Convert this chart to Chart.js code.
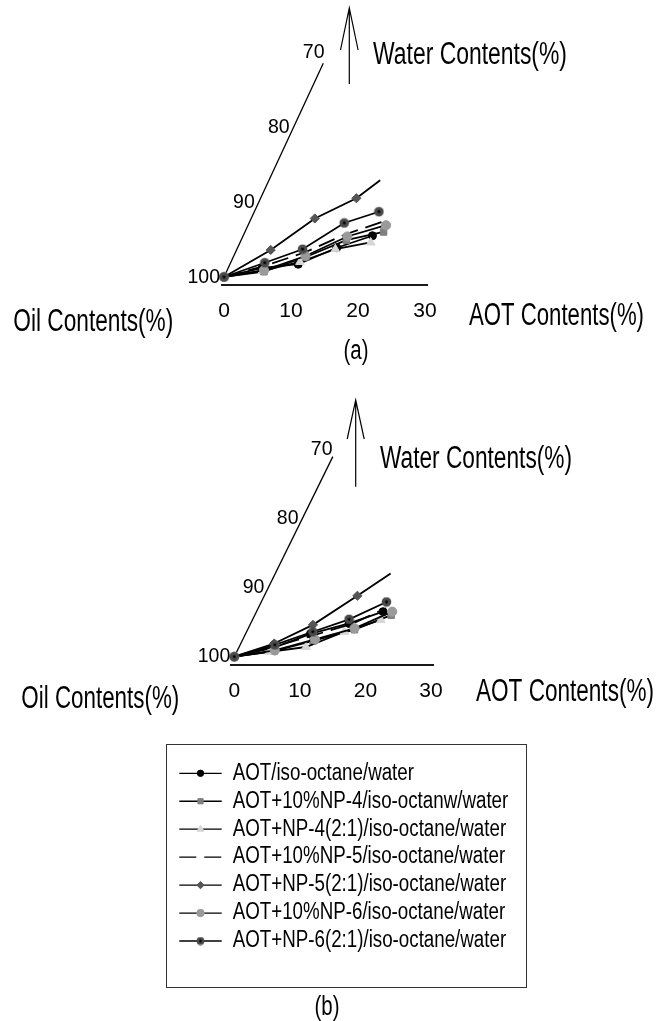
<!DOCTYPE html>
<html>
<head>
<meta charset="utf-8">
<script src="https://cdn.jsdelivr.net/npm/chart.js@4.4.1/dist/chart.umd.min.js"></script>
<style>
  html, body { margin: 0; padding: 0; background: #fff; }
  #wrap { position: relative; width: 669px; height: 1021px; overflow: hidden; }
  canvas { position: absolute; left: 0; top: 0; }
</style>
</head>
<body>
<div id="wrap">
  <canvas id="chartA" width="669" height="1021"></canvas>
  <canvas id="chartB" width="669" height="1021"></canvas>
</div>
<script>
// series names (legend order)
var seriesNames = [
  'AOT/iso-octane/water',
  'AOT+10%NP-4/iso-octanw/water',
  'AOT+NP-4(2:1)/iso-octane/water',
  'AOT+10%NP-5/iso-octane/water',
  'AOT+NP-5(2:1)/iso-octane/water',
  'AOT+10%NP-6/iso-octane/water',
  'AOT+NP-6(2:1)/iso-octane/water'
];
var aotTicks = [0, 10, 20, 30];
var oilLabels = [100, 90, 80, 70];   // oil content along the oil-water edge
var oilLabelWater = [0, 10, 20, 30]; // water content at those labels

// (a) AOT content and water content (%), first point = pure oil
var aotA = [
  [0, 5.1, 10.2, 14.8, 19.3],
  [0, 5.6, 10.9, 15.7, 20.7],
  [0, 5.3, 10.3, 14.7, 19.5],
  [0, 5.4, 10.4, 15.2, 19.9],
  [0, 5.1, 9.5, 14.3, 16.6],
  [0, 5.5, 10.7, 15.6, 20.6],
  [0, 5.1, 9.8, 14.2, 18.6]
];
var waterA = [
  [0, 1.2, 1.7, 3.9, 5.5],
  [0, 0.7, 2.7, 4.9, 6.0],
  [0, 0.8, 2.0, 3.7, 4.6],
  [0, 1.5, 3.3, 5.7, 7.4],
  [0, 3.6, 7.8, 10.5, 12.9],
  [0, 0.9, 2.8, 5.4, 6.9],
  [0, 1.9, 3.7, 7.2, 8.7]
];

// (b)
var aotB = [
  [0, 5.4, 9.9, 15.0, 19.3],
  [0, 5.65, 10.8, 16.3, 20.8],
  [0, 5.0, 10.2, 14.9, 19.6],
  [0, 5.2, 10.2, 15.4, 19.5],
  [0, 5.1, 9.6, 14.2, 17.6],
  [0, 5.7, 11.0, 16.2, 20.7],
  [0, 5.3, 10.1, 14.7, 19.1]
];
var waterB = [
  [0, 1.3, 3.3, 4.8, 6.5],
  [0, 0.8, 2.3, 3.9, 6.0],
  [0, 0.7, 1.4, 3.6, 5.3],
  [0, 1.4, 3.0, 4.7, 7.0],
  [0, 1.9, 4.6, 8.8, 12.0],
  [0, 0.9, 2.5, 4.1, 6.5],
  [0, 1.7, 3.6, 5.4, 7.9]
];

var FONT = '"Liberation Sans", Arial, sans-serif';
var SKEW = 0.52; // horizontal shift per unit of water in the skewed ternary frame

// dark circle with a black centre dot
var dotMarker = document.createElement('canvas');
dotMarker.width = 11; dotMarker.height = 11;
(function() {
  var c = dotMarker.getContext('2d');
  c.fillStyle = '#4a4a4a';
  c.beginPath(); c.arc(5.5, 5.5, 4.8, 0, Math.PI * 2); c.fill();
  c.fillStyle = '#000';
  c.beginPath(); c.arc(5.5, 5.5, 1.4, 0, Math.PI * 2); c.fill();
})();
var dotMarkerSmall = document.createElement('canvas');
dotMarkerSmall.width = 9; dotMarkerSmall.height = 9;
(function() {
  var c = dotMarkerSmall.getContext('2d');
  c.fillStyle = '#4a4a4a';
  c.beginPath(); c.arc(4.5, 4.5, 3.9, 0, Math.PI * 2); c.fill();
  c.fillStyle = '#000';
  c.beginPath(); c.arc(4.5, 4.5, 1.2, 0, Math.PI * 2); c.fill();
})();

var markerStyles = [
  { style: 'circle', fill: '#000', stroke: '#000', r: 4 },
  { style: 'rect', fill: '#7f7f7f', stroke: '#7f7f7f', r: 4.6 },
  { style: 'triangle', fill: '#d6d6d6', stroke: '#d6d6d6', r: 5 },
  { style: null, dash: [17, 8] },
  { style: 'rectRot', fill: '#555', stroke: '#555', r: 4.6, hideLast: true },
  { style: 'circle', fill: '#9a9a9a', stroke: '#9a9a9a', r: 4.6 },
  { style: dotMarker, legendStyle: dotMarkerSmall, r: 5 }
];

function squeeze(ctx, str, x, y, size, width, align) {
  ctx.save();
  ctx.font = size + 'px ' + FONT;
  var sx = width / ctx.measureText(str).width;
  ctx.translate(x, y);
  ctx.scale(sx, 1);
  ctx.textBaseline = 'middle';
  ctx.textAlign = align || 'left';
  ctx.fillStyle = '#000';
  ctx.fillText(str, 0, 0);
  ctx.restore();
}

function squeezeBy(ctx, str, x, y, size, sx, align) {
  ctx.save();
  ctx.font = size + 'px ' + FONT;
  ctx.translate(x, y);
  ctx.scale(sx, 1);
  ctx.textBaseline = 'middle';
  ctx.textAlign = align || 'left';
  ctx.fillStyle = '#000';
  ctx.fillText(str, 0, 0);
  ctx.restore();
}

var decoPlugin = {
  id: 'deco',
  afterDraw: function(chart, args, o) {
    var ctx = chart.ctx, xs = chart.scales.x, ys = chart.scales.y;
    // oil labels along the slanted edge
    oilLabels.forEach(function(v, i) {
      var w = oilLabelWater[i];
      squeezeBy(ctx, String(v), xs.getPixelForValue(w * SKEW) - 4, ys.getPixelForValue(w), 21, 0.93, 'right');
    });
    // arrow
    var a = o.arrow;
    ctx.save();
    ctx.strokeStyle = '#000'; ctx.lineWidth = 1.2;
    ctx.beginPath();
    ctx.moveTo(a.x, a.bottom); ctx.lineTo(a.x, a.top);
    ctx.moveTo(a.x - a.half, a.head); ctx.lineTo(a.x, a.top); ctx.lineTo(a.x + a.half, a.head);
    ctx.stroke();
    ctx.restore();
    squeeze(ctx, 'Water Contents(%)', o.water[0], o.water[1], 31, o.water[2]);
    squeeze(ctx, 'Oil Contents(%)', o.oil[0], o.oil[1], 31, o.oil[2]);
    squeeze(ctx, 'AOT Contents(%)', o.aot[0], o.aot[1], 31, o.aot[2]);
    squeeze(ctx, o.caption[0], o.caption[1], o.caption[2], 27, o.caption[3], 'center');

    if (o.legend) {
      var L = o.legend;
      ctx.save();
      ctx.strokeStyle = '#333'; ctx.lineWidth = 1;
      ctx.strokeRect(L.left + 0.5, L.top + 0.5, L.width, L.height);
      seriesNames.forEach(function(name, i) {
        var cy = L.row0 + i * L.rowStep;
        var st = markerStyles[i];
        ctx.save();
        ctx.strokeStyle = '#000'; ctx.lineWidth = 1.3;
        ctx.setLineDash(st.dash || []);
        ctx.beginPath(); ctx.moveTo(L.lineX0, cy); ctx.lineTo(L.lineX1, cy); ctx.stroke();
        ctx.restore();
        if (st.style) {
          ctx.save();
          ctx.fillStyle = st.fill || '#000';
          ctx.strokeStyle = st.stroke || '#000';
          ctx.lineWidth = 1;
          Chart.helpers.drawPoint(ctx, { pointStyle: st.legendStyle || st.style, radius: st.r * 0.8, borderWidth: 1, rotation: 0 },
            (L.lineX0 + L.lineX1) / 2, cy);
          ctx.restore();
        }
        squeezeBy(ctx, name, L.textX, cy, 23, 0.815, 'left');
      });
      ctx.restore();
    }
  }
};

function makeChart(id, aot, water, edgeTop, xMin, yMin, pad, deco) {
  var datasets = seriesNames.map(function(name, i) {
    var st = markerStyles[i];
    var n = aot[i].length;
    return {
      label: name,
      data: aot[i].map(function(a, k) { return { x: a + SKEW * water[i][k], y: water[i][k] }; }),
      borderColor: '#000',
      borderWidth: 1.8,
      borderDash: st.dash || [],
      pointStyle: st.style || 'circle',
      pointRadius: function(c) {
        if (!st.style) return 0;
        if (st.hideLast && c.dataIndex === n - 1) return 0;
        return st.r;
      },
      pointBackgroundColor: st.fill,
      pointBorderColor: st.stroke,
      pointBorderWidth: 1,
      order: 10 - i,
      clip: false,
      tension: 0,
      fill: false
    };
  });
  // oil-water edge of the ternary diagram
  datasets.push({
    label: 'edge',
    data: [{ x: 0, y: 0 }, { x: edgeTop * SKEW, y: edgeTop }],
    borderColor: '#000', borderWidth: 1.3, pointRadius: 0, order: 20, clip: false
  });

  return new Chart(document.getElementById(id), {
    type: 'line',
    data: { datasets: datasets },
    plugins: [decoPlugin],
    options: {
      responsive: false,
      animation: false,
      devicePixelRatio: 1,
      layout: { padding: pad },
      scales: {
        x: {
          type: 'linear', min: xMin, max: 30.3,
          grid: { display: false, drawTicks: false },
          border: { display: true, color: '#1a1a1a', width: 2 },
          ticks: { font: { family: FONT, size: 21 }, color: '#000', padding: 14 },
          afterBuildTicks: function(s) { s.ticks = aotTicks.map(function(v) { return { value: v }; }); },
          afterFit: function(s) { s.height = 40; }
        },
        y: { type: 'linear', min: yMin, max: 30, display: false }
      },
      plugins: { legend: { display: false }, tooltip: { enabled: false }, deco: deco }
    }
  });
}

makeChart('chartA', aotA, waterA, 28.5, -0.3, -1.07,
  { left: 222, right: 242, top: 52, bottom: 696 },
  {
    arrow: { x: 349.3, top: 8, bottom: 84, head: 50, half: 8.8 },
    water: [373, 55, 194],
    oil: [13.3, 322.7, 160],
    aot: [469, 316, 175],
    caption: ['(a)', 356, 352, 25]
  });

makeChart('chartB', aotB, waterB, 28.9, -0.5, -1.2,
  { left: 231, right: 236, top: 449, bottom: 316 },
  {
    arrow: { x: 355.7, top: 400, bottom: 486.7, head: 439, half: 8.5 },
    water: [380, 459, 192],
    oil: [21.3, 699, 158],
    aot: [476, 692, 178],
    caption: ['(b)', 327, 1008, 25],
    legend: { left: 166, top: 744, width: 360, height: 243, row0: 773.3, rowStep: 27.95,
              lineX0: 179.3, lineX1: 221.7, textX: 232.7 }
  });
</script>
</body>
</html>
